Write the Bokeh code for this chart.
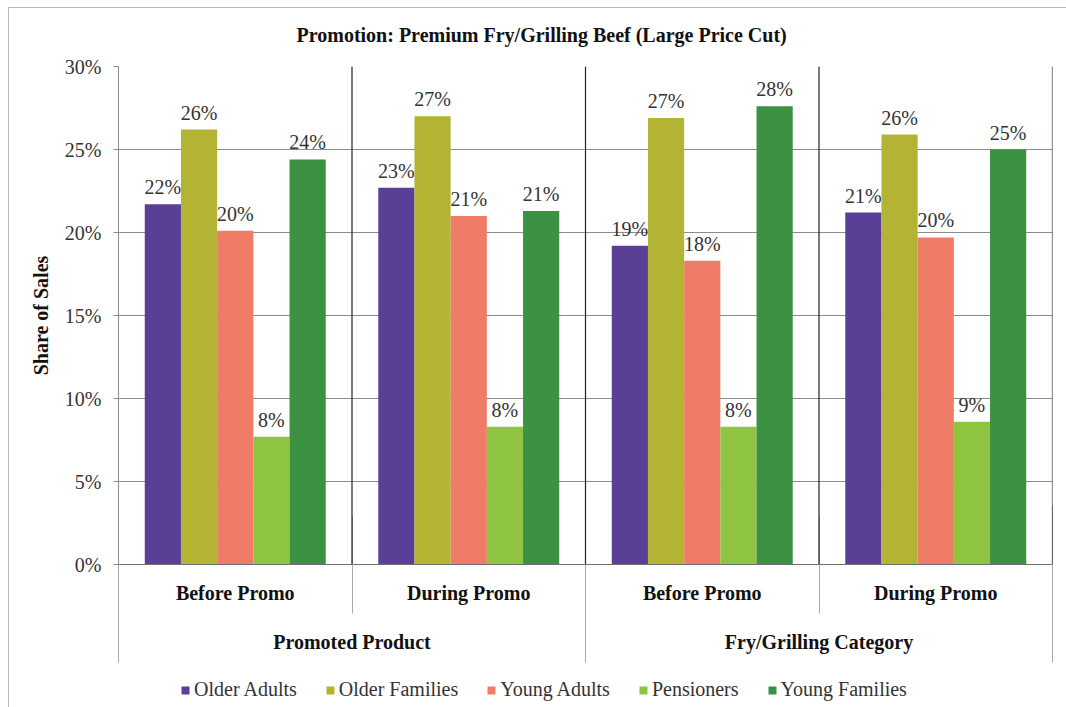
from bokeh.plotting import figure
from bokeh.layouts import column
from bokeh.models import (Range1d, FixedTicker, PrintfTickFormatter, LinearAxis, Span,
                          Legend, LegendItem, ColumnDataSource)
from bokeh.core.properties import value
from bokeh.transform import dodge
from bokeh.embed import file_html
from bokeh.resources import INLINE

# ---- data -------------------------------------------------------------
chart_title = "Promotion: Premium Fry/Grilling Beef (Large Price Cut)"
periods = ["Before Promo", "During Promo", "Before Promo", "During Promo"]
scopes = ["Promoted Product", "Fry/Grilling Category"]
segments = ["Older Adults", "Older Families", "Young Adults", "Pensioners", "Young Families"]

# share of sales (%) per period, in the order of `periods`
older_adults = [21.7, 22.7, 19.2, 21.2]
older_families = [26.2, 27.0, 26.9, 25.9]
young_adults = [20.1, 21.0, 18.3, 19.7]
pensioners = [7.7, 8.3, 8.3, 8.6]
young_families = [24.4, 21.3, 27.6, 25.0]

y_ticks = [0, 5, 10, 15, 20, 25, 30]

# ---- styling ------------------------------------------------------------
colors = ["#5B3E96", "#B3B434", "#EE7C66", "#8EC43F", "#3D9143"]
FONT = "Liberation Serif"
FONT_Q = "'Liberation Serif', serif"
TEXT = "#333333"
GRID = "#8c8c8c"
SEP = "#a8a8a8"
FS = "20px"
W, H_MAIN, H_LEG = 1066, 670, 37

series = [older_adults, older_families, young_adults, pensioners, young_families]

# each period occupies two x units; period centres at 1, 3, 5, 7
n = len(periods)
centers = [2 * i + 1 for i in range(n)]
bar_w = 0.31

p = figure(width=W, height=H_MAIN, output_backend="svg", toolbar_location=None,
           x_range=Range1d(0, 2 * n), y_range=Range1d(0, y_ticks[-1]),
           min_border_left=118, min_border_right=14, min_border_top=66,
           min_border_bottom=H_MAIN - 564)
p.background_fill_color = "white"
p.border_fill_color = None
p.outline_line_color = None

# horizontal gridlines
p.xgrid.visible = False
p.ygrid.ticker = FixedTicker(ticks=y_ticks)
p.ygrid.grid_line_color = GRID
p.ygrid.grid_line_width = 1

sources = []
for j, (vals, col) in enumerate(zip(series, colors)):
    src = ColumnDataSource(dict(x=centers, top=vals,
                                label=[f"{round(v)}%" for v in vals]))
    sources.append(src)
    off = (j - 2) * bar_w
    p.vbar(x=dodge("x", off), top="top", width=bar_w, bottom=0, source=src,
           fill_color=col, line_color=None)
    p.text(x=dodge("x", off), y="top", text="label", source=src,
           text_align="center", text_baseline="bottom", y_offset=-6,
           text_font=value(FONT_Q), text_font_size=FS, text_color=TEXT)

# dark dividers between periods and on the right edge
for k in range(1, n + 1):
    p.add_layout(Span(location=2 * k, dimension="height", line_color="#222222",
                      line_width=1.2))

# y axis
yax = p.yaxis[0]
yax.ticker = FixedTicker(ticks=y_ticks)
yax.formatter = PrintfTickFormatter(format="%d%%")
yax.major_tick_out = 5
yax.major_tick_in = 0
yax.minor_tick_line_color = None
yax.axis_line_color = GRID
yax.major_tick_line_color = GRID
yax.major_label_standoff = 12
yax.major_label_text_font = FONT
yax.major_label_text_font_size = FS
yax.major_label_text_color = TEXT
yax.axis_label = "Share of Sales"
yax.axis_label_text_font = FONT
yax.axis_label_text_font_size = FS
yax.axis_label_text_font_style = "bold"
yax.axis_label_text_color = "#111111"
yax.axis_label_standoff = 10


def style_labels(ax):
    ax.major_label_text_font = FONT
    ax.major_label_text_font_size = FS
    ax.major_label_text_font_style = "bold"
    ax.major_label_text_color = "#111111"


# x axis: period labels
xax = p.xaxis[0]
xax.ticker = FixedTicker(ticks=centers)
xax.major_label_overrides = {c: lab for c, lab in zip(centers, periods)}
xax.major_tick_out = 0
xax.major_tick_in = 0
xax.minor_tick_line_color = None
xax.axis_line_color = "#707070"
xax.major_label_standoff = 17
style_labels(xax)

# second x axis: scope labels; its ticks reach up to the baseline as the
# short dividers between the periods of each scope
scope_centers = [4 * i + 2 for i in range(len(scopes))]
xax2 = LinearAxis(ticker=FixedTicker(ticks=scope_centers))
xax2.major_label_overrides = {c: lab for c, lab in zip(scope_centers, scopes)}
xax2.axis_line_color = None
xax2.minor_tick_line_color = None
xax2.major_tick_line_color = SEP
xax2.major_tick_in = 90
xax2.major_tick_out = 7
xax2.major_label_standoff = 17
style_labels(xax2)
p.add_layout(xax2, "below")

# long dividers framing each scope
edges = list(range(0, 2 * n + 1, 4))
xax3 = LinearAxis(ticker=FixedTicker(ticks=[], minor_ticks=edges))
xax3.axis_line_color = None
xax3.major_tick_line_color = None
xax3.minor_tick_line_color = SEP
xax3.minor_tick_in = 150
xax3.minor_tick_out = 7
xax3.major_tick_out = 0
xax3.major_label_standoff = 0
p.add_layout(xax3, "below")

# title
p.title.text = chart_title
p.title.align = "left"
p.title.offset = 178
p.title.standoff = 42
p.title.text_font = FONT
p.title.text_font_size = FS
p.title.text_font_style = "bold"
p.title.text_color = "#111111"

# legend strip under the chart: same series, with hidden bars
lf = figure(width=W, height=H_LEG, output_backend="svg", toolbar_location=None,
            x_range=p.x_range, y_range=Range1d(-20, -10),
            x_axis_location=None, y_axis_location=None, min_border=0)
lf.grid.visible = False
lf.outline_line_color = None
lf.background_fill_color = None
lf.border_fill_color = None
items = []
for j, (name, src, col) in enumerate(zip(segments, sources, colors)):
    r = lf.vbar(x=dodge("x", (j - 2) * bar_w), top="top", width=bar_w, bottom=0,
                source=src, fill_color=col, line_color=None)
    r.visible = False
    items.append(LegendItem(label=name, renderers=[r]))
legend = Legend(items=items, orientation="horizontal", location=(62, 6),
                glyph_width=10, glyph_height=10, label_standoff=4, spacing=28,
                padding=0, margin=0, border_line_color=None, background_fill_alpha=0,
                inactive_fill_alpha=0)
legend.label_text_font = FONT_Q
legend.label_text_font_style = "normal"
legend.label_text_font_size = FS
legend.label_text_color = TEXT
lf.add_layout(legend, "center")

layout = column(p, lf, spacing=0)
# thin light rule along the top and left of the chart area
layout.styles = {
    "background": ("linear-gradient(#b8b8b8,#b8b8b8) 8px 7px / 1px 100% no-repeat, "
                   "linear-gradient(#b8b8b8,#b8b8b8) 8px 7px / 100% 1px no-repeat, white"),
}
open("out.html", "w").write(file_html(layout, INLINE))
